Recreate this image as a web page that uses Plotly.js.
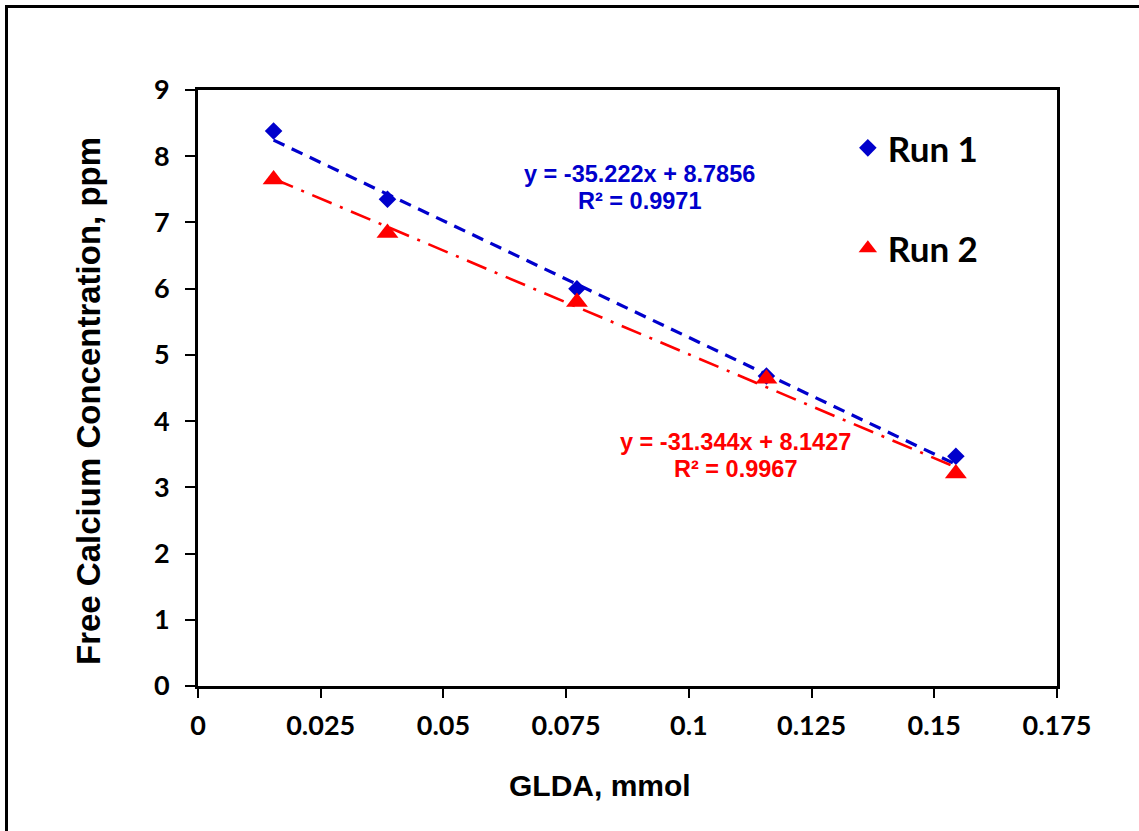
<!DOCTYPE html>
<html>
<head>
<meta charset="utf-8">
<script src="https://cdn.plot.ly/plotly-3.0.1.min.js"></script>
<style>
  html, body { margin: 0; padding: 0; background: #fff; overflow: hidden; }
  #chart { width: 1139px; height: 831px; position: absolute; left: 0; top: 0; }
  #frame { position: absolute; left: 5px; top: 5px; width: 1200px; height: 900px;
           border: 3px solid #000; pointer-events: none; }
</style>
</head>
<body>
<div id="chart"></div>
<div id="frame"></div>
<script>
// ---- data ----
const glda = [0.0154, 0.0386, 0.0772, 0.1158, 0.1544];
const run1 = [8.38, 7.35, 6.00, 4.68, 3.47];
const run2 = [7.65, 6.84, 5.80, 4.64, 3.21];
const seriesNames = ["Run 1", "Run 2"];
const fitSlopes = [-35.222, -31.344];
const fitIntercepts = [8.7856, 8.1427];
const fitR2 = [0.9971, 0.9967];
const xTickVals = [0, 0.025, 0.05, 0.075, 0.1, 0.125, 0.15, 0.175];
const xTickText = ["0", "0.025", "0.05", "0.075", "0.1", "0.125", "0.15", "0.175"];
const yTickVals = [0, 1, 2, 3, 4, 5, 6, 7, 8, 9];
const xTitle = "GLDA, mmol";
const yTitle = "Free Calcium Concentration, ppm";

const blue = "#0000CC";
const red = "#FF0000";

const xMin = Math.min(...glda), xMax = Math.max(...glda);
function fitLine(i) {
  return {
    x: [xMin, xMax],
    y: [fitSlopes[i] * xMin + fitIntercepts[i], fitSlopes[i] * xMax + fitIntercepts[i]]
  };
}
const f1 = fitLine(0), f2 = fitLine(1);

const traces = [
  { x: f1.x, y: f1.y, mode: "lines", showlegend: false, hoverinfo: "skip",
    line: { color: blue, width: 3.2, dash: "12px,8px" } },
  { x: f2.x, y: f2.y, mode: "lines", showlegend: false, hoverinfo: "skip",
    line: { color: red, width: 2.6, dash: "21px,9px,3px,9px" } },
  { x: glda, y: run1, mode: "markers", name: seriesNames[0], legendgroup: "g1",
    marker: { symbol: "diamond", size: 13.5, color: blue } },
  { x: glda, y: run2, mode: "markers", name: seriesNames[1], legendgroup: "g2",
    marker: { symbol: "triangle-up", size: 19, color: red } }
];

function eqText(i) {
  return "y = " + fitSlopes[i].toFixed(3) + "x + " + fitIntercepts[i].toFixed(4);
}

const arialB = "Arial, 'Liberation Sans', sans-serif";
const tickFont = { family: "Lato, 'Open Sans', sans-serif", size: 27, color: "#000", weight: 700 };
const eqFont1 = { family: arialB, size: 23.5, color: blue, weight: 700 };
const eqFont2 = { family: arialB, size: 23.5, color: red, weight: 700 };

const layout = {
  width: 1139, height: 831,
  margin: { l: 198, r: 82, t: 90, b: 145 },
  paper_bgcolor: "#fff", plot_bgcolor: "#fff",
  showlegend: true,
  legend: {
    x: 0.7565, y: 0.952, xanchor: "left", yanchor: "top",
    font: { family: "Lato, 'Open Sans', sans-serif", size: 35, color: "#000", weight: 700 },
    traceorder: "grouped", tracegroupgap: 52, bgcolor: "rgba(0,0,0,0)"
  },
  xaxis: {
    range: [0, 0.175], tickmode: "array", tickvals: xTickVals, ticktext: xTickText,
    showgrid: false, zeroline: false, showline: true, linecolor: "#000", linewidth: 3,
    mirror: true, ticks: "outside", ticklen: 9, tickwidth: 2, tickcolor: "#000",
    tickfont: tickFont, ticklabelstandoff: 5
  },
  yaxis: {
    range: [0, 9], tickmode: "array", tickvals: yTickVals,
    showgrid: false, zeroline: false, showline: true, linecolor: "#000", linewidth: 3,
    mirror: true, ticks: "outside", ticklen: 10, tickwidth: 2, tickcolor: "#000",
    tickfont: tickFont, ticklabelstandoff: 10
  },
  annotations: [
    { x: (600 - 198) / 859, y: (686 - 785) / 596, xref: "paper", yref: "paper",
      xanchor: "center", yanchor: "middle",
      text: xTitle, showarrow: false, font: { family: arialB, size: 30, color: "#000", weight: 700 } },
    { x: (88 - 198) / 859, y: (686 - 401) / 596, xref: "paper", yref: "paper",
      xanchor: "center", yanchor: "middle", textangle: -90,
      text: yTitle, showarrow: false, font: { family: arialB, size: 33, color: "#000", weight: 700 } },
    { x: 0.0899, y: 7.73, xref: "x", yref: "y", text: eqText(0), showarrow: false, font: eqFont1 },
    { x: 0.0899, y: 7.32, xref: "x", yref: "y", text: "R² = " + fitR2[0].toFixed(4), showarrow: false, font: eqFont1 },
    { x: 0.1096, y: 3.68, xref: "x", yref: "y", text: eqText(1), showarrow: false, font: eqFont2 },
    { x: 0.1096, y: 3.28, xref: "x", yref: "y", text: "R² = " + fitR2[1].toFixed(4), showarrow: false, font: eqFont2 }
  ]
};

Plotly.newPlot("chart", traces, layout, { displayModeBar: false, staticPlot: true });
</script>
</body>
</html>
